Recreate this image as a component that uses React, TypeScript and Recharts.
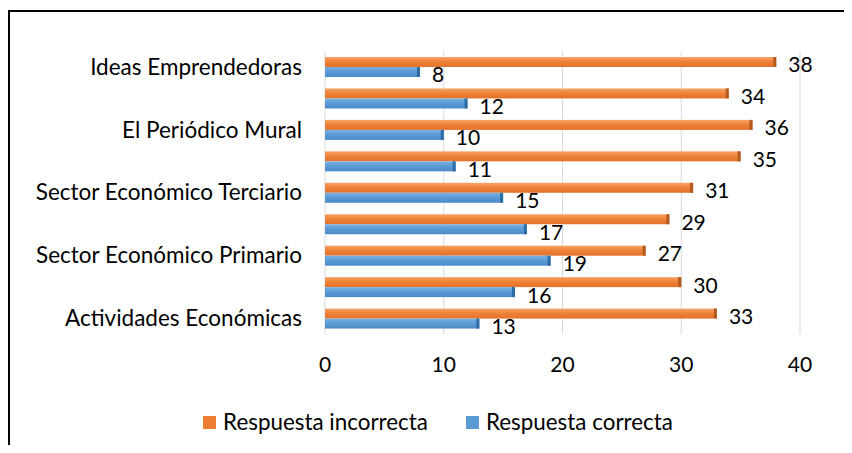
import React from "react";
import { BarChart, Bar, XAxis, YAxis, CartesianGrid, LabelList, Legend } from "recharts";

const categories = [
  "Ideas Emprendedoras",
  "Proyectos Productivos",
  "El Periódico Mural",
  "La Noticia",
  "Sector Económico Terciario",
  "Sector Económico Secundario",
  "Sector Económico Primario",
  "Recursos Naturales",
  "Actividades Económicas",
];
const incorrectValues = [38, 34, 36, 35, 31, 29, 27, 30, 33];
const correctValues = [8, 12, 10, 11, 15, 17, 19, 16, 13];
const xTicks = [0, 10, 20, 30, 40];
const seriesNames = ["Respuesta incorrecta", "Respuesta correcta"];

const data = categories.map((name, i) => ({
  name,
  incorrecta: incorrectValues[i],
  correcta: correctValues[i],
}));

const FONT = "Lato, 'Open Sans', sans-serif";

const makeShape = (grad: string, cap: string) => (props: any) => {
  const { x, y, width, height } = props;
  if (!width || width <= 0) return null;
  return (
    <g>
      <rect x={x} y={y} width={width} height={height} fill={`url(#${grad})`} />
      <rect x={x + width - 3} y={y} width={3} height={height} fill={cap} />
    </g>
  );
};

const LegendContent = () => {
  const items = [
    { name: seriesNames[0], color: "#ED7D31" },
    { name: seriesNames[1], color: "#5B9BD5" },
  ];
  return (
    <div style={{ display: "flex", justifyContent: "center", paddingLeft: 68, fontFamily: FONT, fontSize: 22.4, color: "#000", lineHeight: "26px" }}>
      {items.map((it, i) => (
        <div key={i} style={{ display: "flex", alignItems: "center", marginRight: i === 0 ? 38 : 0 }}>
          <span style={{ display: "inline-block", width: 13, height: 13, background: it.color, marginRight: 7 }} />
          <span>{it.name}</span>
        </div>
      ))}
    </div>
  );
};

export default function App() {
  return (
    <div style={{ position: "relative", width: 844, height: 437, overflow: "hidden" }}>
      <div
        style={{
          position: "absolute",
          left: 0,
          top: 2,
          width: 900,
          height: 500,
          borderTop: "2px solid #000",
          borderLeft: "2px solid #000",
          boxSizing: "border-box",
        }}
      />
      <div style={{ position: "absolute", left: 0, top: 0 }}>
        <BarChart
          width={844}
          height={437}
          data={data}
          layout="vertical"
          barGap={0}
          margin={{ top: 43, right: 52, left: 0, bottom: 30 }}
        >
          <defs>
            <linearGradient id="gradO" x1="0" y1="0" x2="0" y2="1">
              <stop offset="0%" stopColor="#F7A46B" />
              <stop offset="45%" stopColor="#EF8238" />
              <stop offset="100%" stopColor="#E2712A" />
            </linearGradient>
            <linearGradient id="gradB" x1="0" y1="0" x2="0" y2="1">
              <stop offset="0%" stopColor="#7DB1E0" />
              <stop offset="45%" stopColor="#5B9BD5" />
              <stop offset="100%" stopColor="#4A8AC7" />
            </linearGradient>
          </defs>
          <CartesianGrid horizontal={false} stroke="#D9D9D9" />
          <XAxis
            type="number"
            domain={[0, 40]}
            ticks={xTicks}
            axisLine={false}
            tickLine={false}
            tickSize={0}
            tickMargin={23}
            height={55}
            tick={{ fill: "#000", fontSize: 21, fontFamily: FONT }}
          />
          <YAxis
            type="category"
            dataKey="name"
            interval={1}
            width={317}
            axisLine={false}
            tickLine={false}
            tickSize={0}
            tickMargin={23}
            tick={{ fill: "#000", fontSize: 22.5, fontFamily: FONT }}
          />
          <Legend verticalAlign="bottom" content={<LegendContent />} wrapperStyle={{ top: 401, bottom: "auto" }} />
          <Bar
            dataKey="incorrecta"
            name={seriesNames[0]}
            barSize={10}
            fill="#ED7D31"
            isAnimationActive={false}
            shape={makeShape("gradO", "#B35A1F")}
          >
            <LabelList dataKey="incorrecta" position="right" offset={12} fill="#000" fontSize={21} fontFamily={FONT} dy={3} />
          </Bar>
          <Bar
            dataKey="correcta"
            name={seriesNames[1]}
            barSize={10}
            fill="#5B9BD5"
            isAnimationActive={false}
            shape={makeShape("gradB", "#2E6DA4")}
          >
            <LabelList dataKey="correcta" position="right" offset={12} fill="#000" fontSize={21} fontFamily={FONT} dy={3} />
          </Bar>
        </BarChart>
      </div>
    </div>
  );
}
